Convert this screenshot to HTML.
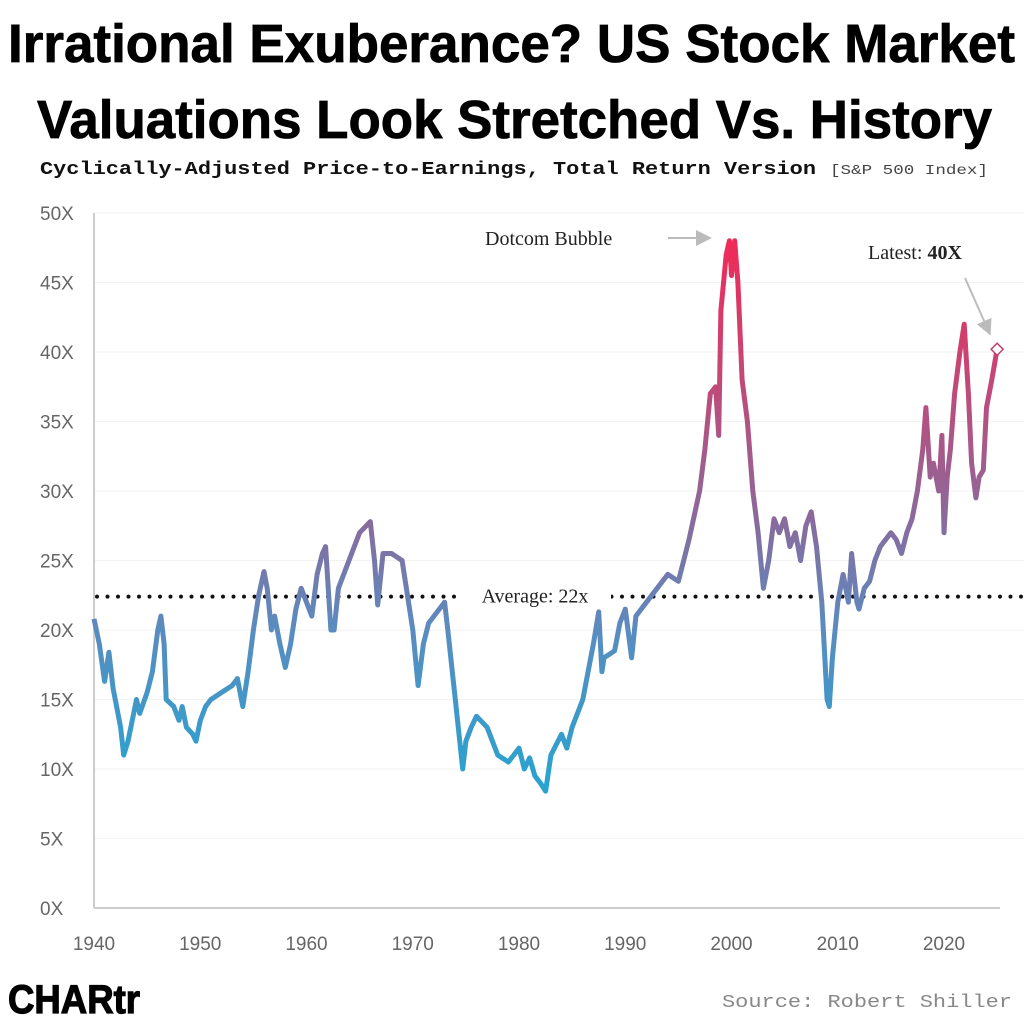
<!DOCTYPE html>
<html><head><meta charset="utf-8"><style>
html,body{margin:0;padding:0;background:#fff;width:1024px;height:1024px;overflow:hidden}
svg{display:block}
</style></head><body>
<svg id="chart" width="1024" height="1024" viewBox="0 0 1024 1024" xmlns="http://www.w3.org/2000/svg">
<defs>
<linearGradient id="lg" gradientUnits="userSpaceOnUse" x1="0" y1="908" x2="0" y2="213">
<stop offset="0.15" stop-color="#22a6d2"/>
<stop offset="0.40" stop-color="#5a8cc0"/>
<stop offset="0.56" stop-color="#8a6a9c"/>
<stop offset="0.75" stop-color="#c04a78"/>
<stop offset="0.96" stop-color="#f02a58"/>
</linearGradient>
<marker id="ah" markerWidth="8" markerHeight="8" refX="6" refY="4" orient="auto"><path d="M0,0 L8,4 L0,8 z" fill="#bbb"/></marker>
</defs>
<text x="8" y="62" textLength="1007" lengthAdjust="spacingAndGlyphs" font-family="Liberation Sans, sans-serif" font-weight="bold" font-size="54" fill="#000" stroke="#000" stroke-width="0.8">Irrational Exuberance? US Stock Market</text>
<text x="37" y="138" textLength="955" lengthAdjust="spacingAndGlyphs" font-family="Liberation Sans, sans-serif" font-weight="bold" font-size="54" fill="#000" stroke="#000" stroke-width="0.8">Valuations Look Stretched Vs. History</text>
<text x="40" y="174" textLength="776" lengthAdjust="spacingAndGlyphs" font-family="Liberation Mono, monospace" font-weight="bold" font-size="18" fill="#111">Cyclically-Adjusted Price-to-Earnings, Total Return Version</text>
<text x="830" y="174" textLength="158" lengthAdjust="spacingAndGlyphs" font-family="Liberation Mono, monospace" font-size="14" fill="#444">[S&amp;P 500 Index]</text>
<g id="grid"></g>
<g id="axes"></g>
<g id="series"></g>
<g id="annot"></g>
<text x="8" y="1013" textLength="132" lengthAdjust="spacingAndGlyphs" font-family="Liberation Sans, sans-serif" font-weight="bold" font-size="40" fill="#000" stroke="#000" stroke-width="1.2">CHARtr</text>
<text x="722" y="1007" textLength="290" lengthAdjust="spacingAndGlyphs" font-family="Liberation Mono, monospace" font-size="18" fill="#888">Source: Robert Shiller</text>
</svg>
<script>
const years = [1940,1940.5,1941,1941.4,1941.8,1942.5,1942.8,1943.2,1944,1944.3,1945,1945.5,1946,1946.3,1946.6,1946.8,1947.5,1948,1948.3,1948.7,1949.3,1949.6,1950,1950.5,1951,1952,1953,1953.5,1954,1954.5,1955,1955.5,1956,1956.3,1956.7,1957,1957.5,1958,1958.5,1959,1959.5,1960,1960.5,1961,1961.5,1961.8,1962.3,1962.6,1963,1964,1965,1966,1966.4,1966.7,1967.2,1968,1969,1970,1970.5,1971,1971.5,1972,1972.5,1973,1973.3,1974,1974.7,1975,1975.5,1976,1977,1977.5,1978,1979,1979.5,1980,1980.5,1981,1981.5,1982,1982.5,1983,1984,1984.5,1985,1986,1987,1987.5,1987.8,1988,1989,1989.5,1990,1990.6,1991,1992,1993,1994,1995,1996,1997,1997.5,1998,1998.5,1998.8,1999,1999.5,1999.8,2000,2000.3,2000.6,2001,2001.5,2002,2002.5,2003,2003.5,2004,2004.5,2005,2005.5,2006,2006.5,2007,2007.5,2008,2008.5,2009,2009.2,2009.5,2010,2010.5,2011,2011.3,2011.8,2012,2012.5,2013,2013.5,2014,2015,2015.5,2016,2016.5,2017,2017.5,2018,2018.3,2018.7,2019,2019.5,2019.8,2020,2020.3,2020.6,2021,2021.5,2021.9,2022.3,2022.6,2023,2023.3,2023.7,2024,2024.5,2025];
const cape = [20.8,19,16.3,18.4,15.8,13,11,12,15,14,15.5,17,20,21,19,15,14.5,13.5,14.5,13,12.5,12,13.5,14.5,15,15.5,16,16.5,14.5,17,20,22.5,24.2,23,20,21,19,17.3,19,21.5,23,22,21,24,25.5,26,20,20,23,25,27,27.8,25,21.8,25.5,25.5,25,20,16,19,20.5,21,21.5,22,20,15,10,12,13,13.8,13,12,11,10.5,11,11.5,10,10.8,9.5,9,8.4,11,12.5,11.5,13,15,19,21.3,17,18,18.5,20.5,21.5,18,21,22,23,24,23.5,26.5,30,33,37,37.5,34,43,47,48,45.5,48,45,38,35,30,27,23,25,28,27,28,26,27,25,27.5,28.5,26,22,15,14.5,18,22,24,22,25.5,22,21.5,23,23.5,25,26,27,26.5,25.5,27,28,30,33,36,31,32,30,34,27,31,33,37,40,42,37,32,29.5,31,31.5,36,38,40.2];
const yTicks = [0,5,10,15,20,25,30,35,40,45,50];
const xTicks = [1940,1950,1960,1970,1980,1990,2000,2010,2020];
const average = 22.4;
const latest = 40.2;

const NS='http://www.w3.org/2000/svg';
const X = y => 94 + (y-1940)*10.625;
const Y = v => 908 - v*13.9;
function mk(tag, attrs, parent, txt){const e=document.createElementNS(NS,tag);for(const k in attrs)e.setAttribute(k,attrs[k]);if(txt!==undefined)e.textContent=txt;parent.appendChild(e);return e;}
const grid=document.getElementById('grid'), axes=document.getElementById('axes'), series=document.getElementById('series'), annot=document.getElementById('annot');
yTicks.forEach(t=>{
  if(t>0){const g=mk('line',{x1:94,x2:1024,y1:Y(t),y2:Y(t),stroke:'#f2f2f2','stroke-width':1},grid);
  
  }
  const l=mk('text',{x:40,y:Y(t)+7,'font-family':'Liberation Sans, sans-serif','font-size':19,fill:'#666'},axes,t+'X');
  
  
});
xTicks.forEach(t=>{
  const l=mk('text',{x:X(t),y:950,'text-anchor':'middle','font-family':'Liberation Sans, sans-serif','font-size':19,fill:'#666'},axes,String(t));
  
  
});
const ya=mk('line',{x1:94,x2:94,y1:213,y2:Y(0),stroke:'#ccc','stroke-width':2},axes);


const xa=mk('line',{x1:94,x2:1000,y1:Y(0),y2:Y(0),stroke:'#ccc','stroke-width':2},axes);



const avg=mk('line',{x1:97,x2:1024,y1:Y(average),y2:Y(average),stroke:'#111','stroke-width':4,'stroke-dasharray':'0 10.5','stroke-linecap':'round'},series);



let d='';years.forEach((yr,i)=>{d+=(i?'L':'M')+X(yr).toFixed(1)+','+Y(cape[i]).toFixed(1);});
const p=mk('path',{d:d,fill:'none',stroke:'url(#lg)','stroke-width':5,'stroke-linejoin':'round'},series);



const bg=mk('rect',{x:459,y:Y(average)-14,width:152,height:24,fill:'#fff'},annot);


const al=mk('text',{x:535,y:Y(average)+6,'text-anchor':'middle','font-family':'Liberation Serif, serif','font-size':20,fill:'#222'},annot,'Average: 22x');


const dl=mk('text',{x:485,y:245,'font-family':'Liberation Serif, serif','font-size':20,fill:'#222'},annot,'Dotcom Bubble');


const da=mk('line',{x1:668,y1:238,x2:708,y2:238,stroke:'#bbb','stroke-width':2,'marker-end':'url(#ah)'},annot);


const ll=mk('text',{x:868,y:259,'font-family':'Liberation Serif, serif','font-size':20,fill:'#222'},annot);


mk('tspan',{},ll,'Latest: ');
mk('tspan',{'font-weight':'bold'},ll,'40X');
const la=mk('line',{x1:965,y1:278,x2:989,y2:332,stroke:'#bbb','stroke-width':2,'marker-end':'url(#ah)'},annot);


const cx=X(years[years.length-1]), cy=Y(latest);
const dm=mk('path',{d:`M${cx},${cy-6} L${cx+6},${cy} L${cx},${cy+6} L${cx-6},${cy} Z`,fill:'#fff',stroke:'#c0406c','stroke-width':1.5},annot);


</script>
</body></html>
